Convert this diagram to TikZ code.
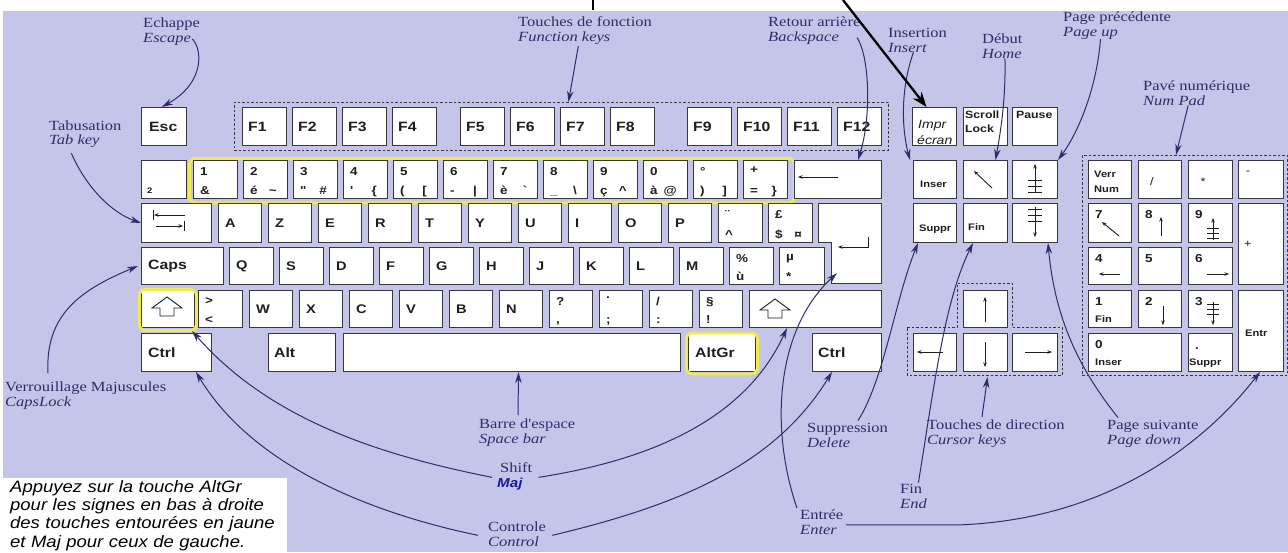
\documentclass[tikz,border=0pt]{standalone}
\usepackage{fontspec}
\usetikzlibrary{arrows.meta}
\newfontfamily\labfont[FakeStretch=1.18]{Liberation Serif}
\newfontfamily\ksf[FakeStretch=1.17]{Liberation Sans}
\newfontfamily\notefont[FakeStretch=1.12]{Liberation Sans}
\definecolor{bg}{RGB}{197,197,234}
\definecolor{navy}{RGB}{45,45,105}
\definecolor{keyedge}{RGB}{55,55,60}
\definecolor{ktext}{RGB}{30,30,30}
\definecolor{hl}{RGB}{240,236,80}
\definecolor{majblue}{RGB}{25,25,160}
\newcommand\kk[5]{\node[key,minimum width=#4pt,minimum height=#5pt] (#1) at (#2,#3) {};}
\newcommand\kt[4][kl]{\node[#1,anchor=west] (#2-t) at ([xshift=#3pt]#2.west) {#4};}
\newcommand\ktop[2]{\node[kd,anchor=north west] (#1-a) at ([shift={(7pt,-7pt)}]#1.north west) {#2};}
\newcommand\ktwo[4]{\ktop{#1}{#2}%
 \node[kd,anchor=base west] (#1-b) at ([shift={(7pt,5pt)}]#1.south west) {#3};%
 \node[kd,anchor=base east] (#1-c) at ([shift={(-11pt,5pt)}]#1.south east) {#4};}
\newcommand\shiftsym[2]{\draw[icon] (#1,#2) -- ++(15,11) -- ++(-8,0) -- ++(0,8) -- ++(-14,0) -- ++(0,-8) -- ++(-8,0) -- cycle;}
\begin{document}
\begin{tikzpicture}[x=1pt,y=-1pt,
 key/.style={draw=keyedge,fill=white,line width=1pt,rectangle,inner sep=0pt,anchor=north west},
 kw/.style={font=\ksf\bfseries\fontsize{13.5}{13.5}\selectfont,text=ktext,inner sep=0pt},
 kl/.style={font=\ksf\bfseries\fontsize{12.5}{12.5}\selectfont,text=ktext,inner sep=0pt},
 kd/.style={font=\ksf\bfseries\fontsize{11.5}{11.5}\selectfont,text=ktext,inner sep=0pt},
 ks/.style={font=\ksf\bfseries\fontsize{9.5}{9.5}\selectfont,text=ktext,inner sep=0pt},
 kp/.style={font=\ksf\bfseries\fontsize{10.5}{10.5}\selectfont,text=ktext,inner sep=0pt},
 kn/.style={font=\ksf\fontsize{11}{11}\selectfont,text=ktext,inner sep=0pt},
 ki/.style={font=\ksf\itshape\fontsize{12}{12}\selectfont,text=ktext,inner sep=0pt},
 lab/.style={font=\labfont\fontsize{14}{15}\selectfont,text=navy,inner sep=0pt,anchor=base west},
 labi/.style={font=\labfont\itshape\fontsize{14}{15}\selectfont,text=navy,inner sep=0pt,anchor=base west},
 conn/.style={draw=navy,line width=1pt,-{Stealth[length=11pt,width=6.5pt]}},
 dbox/.style={draw=keyedge,line width=0.9pt,dash pattern=on 2.5pt off 2pt},
 hlbox/.style={draw=hl,line width=2.8pt,rounded corners=6pt},
 icon/.style={draw=ktext,line width=0.9pt},
 iarr/.style={icon,-{Stealth[length=4.5pt,width=3.5pt]}}
]
\useasboundingbox (0,0) rectangle (1288,552);
\fill[white] (0,0) rectangle (1288,552);
\fill[bg] (3,11) rectangle (1288,552);

% groups
\node[dbox,anchor=north west,inner sep=0pt,minimum width=654pt,minimum height=48pt] (fbox) at (234,102) {};
\node[dbox,anchor=north west,inner sep=0pt,minimum width=205pt,minimum height=220pt] (numbox) at (1082,155) {};
\draw[dbox] (907,327) -- (957,327) -- (957,283) -- (1012,283) -- (1012,327) -- (1062,327) -- (1062,375) -- (907,375) -- cycle;
\node[hlbox,anchor=north west,inner sep=0pt,minimum width=605pt,minimum height=44.5pt] (hlnum) at (188,157) {};

% row 0
\kk{esc}{141}{107}{45}{38}\kt[kw]{esc}{8}{Esc}
\foreach \n/\x in {1/242,2/292,3/342,4/392,5/460,6/510,7/560,8/610,9/687,10/737,11/787,12/837}{\kk{F\n}{\x}{107}{44}{38}\kt[kw]{F\n}{6}{F\n}}
\kk{impr}{912}{107}{44}{38}
\node[ki,anchor=base west] (impr-a) at (918,128) {Impr};
\node[ki,anchor=base west] (impr-b) at (917,144) {écran};
\kk{scroll}{963}{107}{44}{38}
\node[kp,anchor=base west] (scroll-a) at (965,118) {Scroll};
\node[kp,anchor=base west] (scroll-b) at (965,132) {Lock};
\kk{pause}{1012}{107}{45}{38}
\node[kp,anchor=base west] (pause-t) at (1016,118) {Pause};

% row 1
\kk{sq}{141}{160}{45}{38}
\node[kd,font=\ksf\bfseries\fontsize{8}{8}\selectfont,anchor=base west] (sq-t) at (147,193) {2};
\kk{k1}{193}{160}{44}{38}\ktwo{k1}{1}{\&}{}
\kk{k2}{243}{160}{44}{38}\ktwo{k2}{2}{é}{\textasciitilde}
\kk{k3}{293}{160}{44}{38}\ktwo{k3}{3}{"}{\#}
\kk{k4}{343}{160}{44}{38}\ktwo{k4}{4}{\textquotesingle}{\{}
\kk{k5}{393}{160}{44}{38}\ktwo{k5}{5}{(}{[}
\kk{k6}{443}{160}{44}{38}\ktwo{k6}{6}{-}{|}
\kk{k7}{493}{160}{44}{38}\ktwo{k7}{7}{è}{\textasciigrave}
\kk{k8}{543}{160}{44}{38}\ktwo{k8}{8}{\_}{\textbackslash}
\kk{k9}{593}{160}{44}{38}\ktwo{k9}{9}{ç}{\textasciicircum}
\kk{k0}{643}{160}{44}{38}\ktwo{k0}{0}{à}{@}
\kk{kdeg}{693}{160}{44}{38}\ktwo{kdeg}{°}{)}{]}
\kk{kplus}{743}{160}{44}{38}\ktwo{kplus}{+}{=}{\}}
\kk{bs}{794}{160}{87}{38}
\draw[iarr] (838,177) -- (798,177);
\kk{ins}{913}{160}{43}{38}
\node[ks,anchor=base west] (ins-t) at (920,187) {Inser};
\kk{home}{963}{160}{44}{38}
\draw[iarr] (992,188) -- (974,171);
\kk{pgup}{1012}{160}{45}{38}
\draw[iarr] (1035,193) -- (1035,164);
\foreach \yy in {180,186,192}{\draw[icon] (1028,\yy) -- (1042,\yy);}
\kk{nlock}{1088}{160}{43}{38}
\node[ks,anchor=base west] (nlock-a) at (1094,177) {Verr};
\node[ks,anchor=base west] (nlock-b) at (1094,192) {Num};
\kk{nslash}{1138}{160}{43}{38}
\node[kn] (nslash-t) at (1152,182) {/};
\kk{nstar}{1188}{160}{44}{38}
\node[kn] (nstar-t) at (1203,182) {*};
\kk{nminus}{1238}{160}{45}{38}
\node[kn] (nminus-t) at (1248,173) {-};

% row 2
\kk{tab}{141}{203}{70}{39}
\draw[icon] (153,210) -- (153,220);
\draw[iarr] (185,215) -- (154,215);
\draw[icon] (184,221) -- (184,231);
\draw[iarr] (156,226) -- (183,226);
\foreach \l [count=\i from 0] in {A,Z,E,R,T,Y,U,I,O,P}{\pgfmathsetmacro\xx{218+50*\i}\kk{k\l}{\xx}{203}{43}{39}\kt{k\l}{7}{\l}}
\kk{uml}{718}{203}{44}{39}\ktwo{uml}{¨}{\textasciicircum}{}
\kk{pound}{768}{203}{44}{39}\ktwo{pound}{£}{\$}{¤}
\node[fill=white,inner sep=0pt,anchor=north west,minimum width=63pt,minimum height=40pt] (enterup) at (818,203) {};
\node[fill=white,inner sep=0pt,anchor=north west,minimum width=50pt,minimum height=41pt] (enterlo) at (831,242) {};
\draw[draw=keyedge,line width=1pt] (enterup.north west) -- (enterup.north east) -- (enterlo.south east) -- (enterlo.south west) -- (enterlo.north west) -- (enterlo.north west -| enterup.west) -- cycle;
\draw[iarr] (868,237) -- (868,247) -- (838,247);
\kk{suppr}{913}{203}{43}{39}
\node[ks,anchor=base west] (suppr-t) at (919,231) {Suppr};
\kk{fin}{963}{203}{44}{39}
\node[ks,anchor=base west] (fin-t) at (968,230) {Fin};
\kk{pgdn}{1012}{203}{45}{39}
\draw[iarr] (1035,207) -- (1035,237);
\foreach \yy in {209,215,221}{\draw[icon] (1028,\yy) -- (1042,\yy);}
\kk{n7}{1088}{203}{43}{39}\ktop{n7}{7}
\draw[iarr] (1119,236) -- (1102,222);
\kk{n8}{1138}{203}{43}{39}\ktop{n8}{8}
\draw[iarr] (1161,236) -- (1161,217);
\kk{n9}{1188}{203}{44}{39}\ktop{n9}{9}
\draw[iarr] (1213,240) -- (1213,218);
\foreach \yy in {228,233,238}{\draw[icon] (1207,\yy) -- (1219,\yy);}
\kk{nplus}{1238}{203}{45}{81}
\node[kn,anchor=west] (nplus-t) at ([xshift=6pt]nplus.west) {+};

% row 3
\kk{caps}{141}{247}{82}{37}\kt[kw]{caps}{7}{Caps}
\foreach \l [count=\i from 0] in {Q,S,D,F,G,H,J,K,L,M}{\pgfmathsetmacro\xx{229+50*\i}\kk{k\l}{\xx}{247}{44}{37}\kt{k\l}{7}{\l}}
\kk{pct}{729}{247}{44}{37}\ktwo{pct}{\%}{ù}{}
\kk{mu}{779}{247}{45}{37}\ktwo{mu}{µ}{*}{}
\kk{n4}{1088}{247}{43}{37}\ktop{n4}{4}
\draw[iarr] (1120,274) -- (1099,274);
\kk{n5}{1138}{247}{43}{37}\ktop{n5}{5}
\kk{n6}{1188}{247}{44}{37}\ktop{n6}{6}
\draw[iarr] (1207,274) -- (1229,274);

% row 4
\kk{lshift}{141}{290}{53}{37}
\shiftsym{167}{297}
\kk{lt}{198}{290}{44}{37}\ktwo{lt}{>}{<}{}
\foreach \l [count=\i from 0] in {W,X,C,V,B,N}{\pgfmathsetmacro\xx{249+50*\i}\kk{k\l}{\xx}{290}{43}{37}\kt{k\l}{7}{\l}}
\kk{comma}{549}{290}{43}{37}\ktwo{comma}{?}{,}{}
\kk{semi}{599}{290}{43}{37}\ktwo{semi}{.}{;}{}
\kk{colon}{649}{290}{43}{37}\ktwo{colon}{/}{:}{}
\kk{sect}{699}{290}{43}{37}\ktwo{sect}{§}{!}{}
\kk{rshift}{749}{290}{132}{37}
\shiftsym{775}{299}
\kk{kup}{963}{290}{44}{37}
\draw[iarr] (985,322) -- (985,297);
\kk{n1}{1088}{290}{43}{37}\ktop{n1}{1}
\node[ks,anchor=base west] (n1-b) at (1095,322) {Fin};
\kk{n2}{1138}{290}{43}{37}\ktop{n2}{2}
\draw[iarr] (1163,306) -- (1163,325);
\kk{n3}{1188}{290}{44}{37}\ktop{n3}{3}
\draw[iarr] (1213,302) -- (1213,325);
\foreach \yy in {304,309,314}{\draw[icon] (1207,\yy) -- (1219,\yy);}
\kk{nentr}{1238}{290}{45}{81}
\node[ks,anchor=west] (nentr-t) at (1245,333) {Entr};

% row 5
\kk{lctrl}{141}{333}{70}{38}\kt[kw]{lctrl}{7}{Ctrl}
\kk{alt}{268}{333}{67}{38}\kt[kw]{alt}{6}{Alt}
\kk{space}{343}{333}{337}{38}
\kk{altgr}{688}{333}{67}{38}\kt[kw]{altgr}{7}{AltGr}
\kk{rctrl}{812}{333}{69}{38}\kt[kw]{rctrl}{6}{Ctrl}
\kk{kleft}{913}{333}{43}{38}
\draw[iarr] (943,352) -- (917,352);
\kk{kdown}{963}{333}{44}{38}
\draw[iarr] (985,342) -- (985,367);
\kk{kright}{1012}{333}{45}{38}
\draw[iarr] (1025,352) -- (1052,352);
\kk{n0}{1088}{333}{93}{38}\ktop{n0}{0}
\node[ks,anchor=base west] (n0-b) at (1095,365) {Inser};
\kk{ndot}{1188}{333}{44}{38}
\node[kd,anchor=base west] (ndot-a) at (1195,349) {.};
\node[ks,anchor=base west] (ndot-b) at (1189,365) {Suppr};

% yellow highlights on single keys
\node[hlbox,anchor=north west,inner sep=0pt,minimum width=57pt,minimum height=41pt] (hlshift) at (138,288) {};
\node[hlbox,anchor=north west,inner sep=0pt,minimum width=71pt,minimum height=41pt] (hlaltgr) at (685,331.5) {};

% labels
\node[lab] (lEsc) at (143,27) {Echappe};
\node[labi] (lEscE) at (143,42) {Escape};
\node[lab] (lFn) at (518,26) {Touches de fonction};
\node[labi] (lFnE) at (518,41) {Function keys};
\node[lab] (lBack) at (768,26) {Retour arrière};
\node[labi] (lBackE) at (768,41) {Backspace};
\node[lab] (lIns) at (888,37) {Insertion};
\node[labi] (lInsE) at (888,52) {Insert};
\node[lab] (lHome) at (982,43) {Début};
\node[labi] (lHomeE) at (982,58) {Home};
\node[lab] (lPgUp) at (1063,21) {Page précédente};
\node[labi] (lPgUpE) at (1063,36) {Page up};
\node[lab] (lNum) at (1143,90) {Pavé numérique};
\node[labi] (lNumE) at (1143,105) {Num Pad};
\node[lab] (lTab) at (49,130) {Tabusation};
\node[labi] (lTabE) at (49,144) {Tab key};
\node[lab] (lCaps) at (5,391) {Verrouillage Majuscules};
\node[labi] (lCapsE) at (5,406) {CapsLock};
\node[lab] (lSpace) at (479,428) {Barre d'espace};
\node[labi] (lSpaceE) at (479,443) {Space bar};
\node[lab] (lShift) at (500,472) {Shift};
\node[font=\ksf\bfseries\itshape\fontsize{13}{13}\selectfont,text=majblue,inner sep=0pt,anchor=base west] (lShiftE) at (497,487) {Maj};
\node[lab] (lCtrl) at (488,531) {Controle};
\node[labi] (lCtrlE) at (488,546) {Control};
\node[lab] (lDel) at (807,432) {Suppression};
\node[labi] (lDelE) at (807,447) {Delete};
\node[lab] (lEnter) at (800,519) {Entrée};
\node[labi] (lEnterE) at (800,534) {Enter};
\node[lab] (lCur) at (927,429) {Touches de direction};
\node[labi] (lCurE) at (927,444) {Cursor keys};
\node[lab] (lFin) at (900,493) {Fin};
\node[labi] (lFinE) at (900,508) {End};
\node[lab] (lPgDn) at (1107,429) {Page suivante};
\node[labi] (lPgDnE) at (1107,444) {Page down};

% connectors
\draw[conn] ([xshift=1pt]lEscE.east) .. controls (202,48) and (206,82) .. ([xshift=-2pt]esc.north);
\draw[conn] ([xshift=14pt,yshift=-2pt]lFnE.south) -- ([xshift=7pt]fbox.north);
\draw[conn] ([xshift=18pt]lBackE.east) .. controls (869,55) and (872,115) .. ([xshift=20pt]bs.north);
\draw[conn] ([xshift=6pt]lInsE.south) .. controls (900,90) and (902,130) .. ([xshift=-3pt]ins.north west);
\draw[conn] ([xshift=3pt]lHomeE.south) .. controls (1006,100) and (1000,135) .. ([xshift=10pt]home.north);
\draw[conn] ([xshift=10pt]lPgUpE.south) .. controls (1097,85) and (1080,130) .. (pgup.north east);
\draw[conn] ([xshift=14pt]lNumE.south) -- ([xshift=-9pt]numbox.north);
\draw[conn] ([xshift=-3pt,yshift=-6pt]lTabE.south) .. controls (85,185) and (110,212) .. (tab.west);
\draw[conn] ([xshift=43pt,yshift=8pt]lCaps.north west) .. controls (45,315) and (80,290) .. ([xshift=-3pt]caps.west);
\draw[conn] ([xshift=-8pt,yshift=-5pt]lShift.south west) .. controls (380,455) and (270,420) .. ([xshift=-3pt,yshift=-3pt]lshift.south east);
\draw[conn] ([xshift=6pt,yshift=-5pt]lShift.south east) .. controls (650,460) and (745,420) .. ([xshift=38pt]rshift.south west);
\draw[conn] ([xshift=-10pt,yshift=-4pt]lCtrl.south west) .. controls (380,515) and (255,470) .. ([xshift=-16pt]lctrl.south east);
\draw[conn] ([xshift=6pt,yshift=-4pt]lCtrl.south east) .. controls (680,505) and (775,465) .. ([xshift=20pt]rctrl.south west);
\draw[conn] ([xshift=39pt,yshift=3pt]lSpace.north west) -- ([xshift=6.5pt]space.south);
\draw[conn] ([xshift=-3pt,yshift=1pt]lEnter.north west) .. controls (770,430) and (775,330) .. ([shift={(6pt,-10.5pt)}]enterlo.west);
\draw[conn] ([xshift=9pt,yshift=4.5pt]lEnterE.east) -- ++(110pt,0pt) .. controls (1120,520) and (1215,430) .. ([xshift=22pt]nentr.south west);
\draw[conn] ([xshift=51pt,yshift=2pt]lDel.north west) .. controls (884,380) and (895,300) .. ([xshift=5pt]suppr.south west);
\draw[conn] ([xshift=-4pt,yshift=1pt]lFin.north east) .. controls (935,380) and (945,300) .. ([xshift=10pt]fin.south west);
\draw[conn] ([xshift=55pt,yshift=2pt]lCur.north west) -- ([shift={(2pt,-5pt)}]kdown.south);
\draw[conn] ([xshift=11pt,yshift=2pt]lPgDn.north west) .. controls (1080,370) and (1055,320) .. ([xshift=-10pt]pgdn.south east);

% note
\node[fill=white,anchor=north west,inner xsep=7pt,inner ysep=2pt,minimum height=74pt,text width=270pt,align=left,font=\notefont\itshape\fontsize{16.5}{18.3}\selectfont,text=black] (note) at (3,478) {Appuyez sur la touche AltGr\\pour les signes en bas à droite\\des touches entourées en jaune\\et Maj pour ceux de gauche.};

% black arrow and tick at top
\coordinate (bigstart) at (843,0);
\draw[line width=2.3pt,-{Stealth[length=15pt,width=11pt]}] (bigstart) -- ([xshift=-8pt]impr.north);
\coordinate (tickA) at (593,0);
\coordinate (tickB) at (593,10);
\draw[line width=1.3pt] (tickA) -- (tickB);
\end{tikzpicture}
\end{document}
